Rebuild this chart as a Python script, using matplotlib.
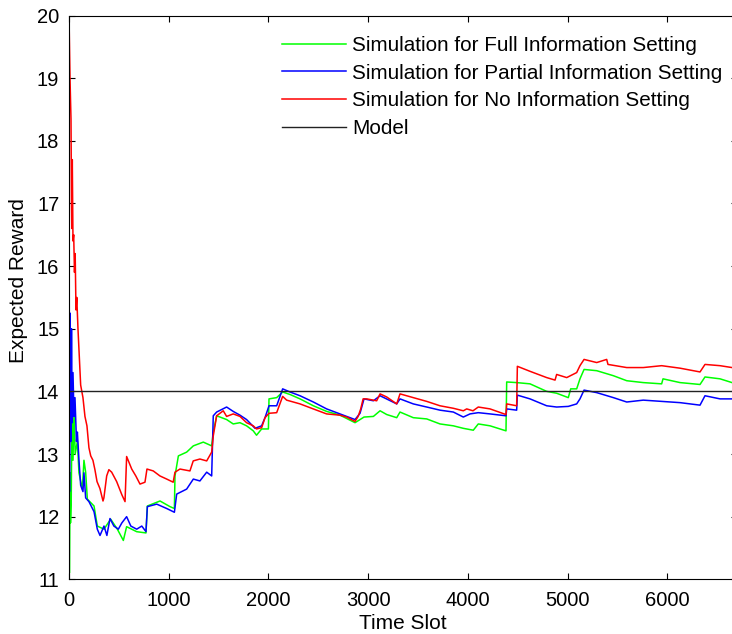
import numpy as np
import matplotlib
matplotlib.use('Agg')
from matplotlib import pyplot as plt

plt.rcParams['font.family'] = ['Liberation Sans', 'DejaVu Sans']

# Simulation for Full Information Setting (green)
t_full = [0, 4, 10, 15, 22, 30, 40, 50, 62, 84, 100, 134, 150, 167, 184, 251, 284, 351,
          418, 485, 545, 578, 679, 772, 786, 913, 1013, 1057, 1063, 1097, 1180, 1247,
          1347, 1431, 1447, 1481, 1581, 1647, 1715, 1781, 1848, 1881, 1932, 2000, 2006,
          2083, 2143, 2217, 2317, 2451, 2584, 2718, 2869, 2919, 2959, 3053, 3120, 3187,
          3287, 3320, 3453, 3588, 3721, 3855, 3955, 4055, 4105, 4223, 4383, 4390, 4490,
          4624, 4791, 4891, 5008, 5032, 5092, 5125, 5166, 5293, 5460, 5594, 5760, 5944,
          5958, 6129, 6329, 6379, 6530, 6650]
r_full = [15.0, 11.1, 12.7, 11.9, 12.2, 13.7, 12.9, 13.7, 13.0, 13.2, 12.7, 12.44, 12.9,
          12.71, 12.28, 12.17, 11.85, 11.8, 11.96, 11.8, 11.62, 11.84, 11.76, 11.74,
          12.17, 12.25, 12.16, 12.13, 12.65, 12.97, 13.03, 13.13, 13.19, 13.13, 13.35,
          13.61, 13.55, 13.48, 13.5, 13.45, 13.37, 13.3, 13.4, 13.4, 13.88, 13.9, 13.99,
          13.95, 13.88, 13.77, 13.68, 13.62, 13.5, 13.55, 13.59, 13.6, 13.69, 13.63,
          13.58, 13.67, 13.58, 13.56, 13.48, 13.45, 13.41, 13.38, 13.48, 13.45, 13.37,
          14.15, 14.14, 14.12, 14.0, 13.97, 13.9, 14.04, 14.04, 14.2, 14.35, 14.33, 14.25,
          14.17, 14.14, 14.12, 14.2, 14.14, 14.11, 14.23, 14.2, 14.14]

# Simulation for Partial Information Setting (blue)
t_part = [0, 5, 10, 18, 25, 32, 40, 50, 60, 75, 84, 100, 117, 140, 150, 167, 200, 251,
          284, 311, 351, 380, 411, 450, 495, 530, 578, 620, 679, 730, 772, 786, 880, 980,
          1057, 1080, 1180, 1247, 1313, 1381, 1431, 1447, 1481, 1581, 1647, 1715, 1781,
          1866, 1932, 1966, 2006, 2083, 2143, 2217, 2317, 2451, 2584, 2718, 2869, 2919,
          2959, 3053, 3120, 3287, 3320, 3453, 3588, 3721, 3855, 3955, 4022, 4105, 4223,
          4383, 4390, 4490, 4497, 4624, 4791, 4891, 5008, 5092, 5125, 5166, 5293, 5460,
          5594, 5760, 5944, 6129, 6329, 6379, 6530, 6650]
r_part = [18.6, 12.4, 15.25, 13.2, 15.0, 13.5, 14.3, 13.6, 13.9, 13.2, 13.35, 12.9, 12.5,
          12.4, 12.7, 12.3, 12.24, 12.08, 11.8, 11.7, 11.85, 11.7, 11.97, 11.85, 11.8,
          11.9, 12.0, 11.85, 11.8, 11.85, 11.76, 12.16, 12.2, 12.13, 12.07, 12.36, 12.44,
          12.6, 12.57, 12.71, 12.65, 13.61, 13.67, 13.75, 13.68, 13.62, 13.55, 13.41,
          13.45, 13.58, 13.77, 13.77, 14.04, 13.99, 13.93, 13.83, 13.72, 13.64, 13.55,
          13.65, 13.88, 13.85, 13.93, 13.8, 13.88, 13.8, 13.75, 13.7, 13.67, 13.59, 13.64,
          13.66, 13.64, 13.61, 13.72, 13.7, 13.94, 13.88, 13.77, 13.75, 13.76, 13.8,
          13.88, 14.02, 13.98, 13.9, 13.83, 13.86, 13.84, 13.82, 13.78, 13.93, 13.88, 13.88]

# Simulation for No Information Setting (red)
t_none = [0, 10, 20, 25, 28, 33, 40, 47, 55, 62, 70, 78, 90, 105, 117, 140, 160, 180, 200,
          218, 240, 260, 281, 310, 341, 350, 378, 400, 428, 478, 530, 562, 578, 629, 670,
          712, 762, 782, 845, 912, 980, 1045, 1063, 1113, 1213, 1246, 1313, 1381, 1431,
          1447, 1481, 1547, 1581, 1647, 1715, 1781, 1848, 1881, 1932, 1966, 2006, 2083,
          2143, 2183, 2317, 2450, 2584, 2718, 2785, 2869, 2900, 2926, 2950, 2986, 3086,
          3120, 3187, 3287, 3320, 3453, 3588, 3721, 3855, 3955, 3989, 4052, 4105, 4223,
          4383, 4390, 4490, 4497, 4624, 4791, 4875, 4891, 4992, 5092, 5125, 5166, 5293,
          5393, 5406, 5594, 5760, 5944, 6129, 6329, 6379, 6530, 6650]
r_none = [20.0, 19.0, 18.35, 17.0, 16.6, 17.7, 16.4, 16.5, 15.9, 16.2, 15.3, 15.5, 15.0,
          14.5, 14.1, 13.9, 13.6, 13.45, 13.1, 12.97, 12.9, 12.75, 12.56, 12.45, 12.25,
          12.3, 12.65, 12.75, 12.71, 12.56, 12.35, 12.24, 12.96, 12.76, 12.65, 12.52,
          12.55, 12.76, 12.73, 12.65, 12.6, 12.55, 12.71, 12.76, 12.73, 12.89, 12.92,
          12.89, 13.03, 13.29, 13.61, 13.69, 13.6, 13.64, 13.6, 13.5, 13.45, 13.4, 13.42,
          13.58, 13.65, 13.66, 13.92, 13.86, 13.8, 13.72, 13.64, 13.62, 13.59, 13.52, 13.6,
          13.72, 13.88, 13.88, 13.85, 13.96, 13.91, 13.8, 13.96, 13.9, 13.84, 13.77, 13.73,
          13.69, 13.72, 13.69, 13.75, 13.72, 13.63, 13.8, 13.77, 14.4, 14.32, 14.22, 14.18,
          14.27, 14.22, 14.3, 14.41, 14.51, 14.46, 14.51, 14.43, 14.38, 14.38, 14.41, 14.37,
          14.31, 14.43, 14.41, 14.38]

model = 14.0

fig = plt.figure(figsize=(7.32, 6.34), dpi=100)
ax = fig.add_axes([69/732, (634-579.3)/634, (737-69)/732, (579.3-15.5)/634])

ax.plot(t_full, r_full, color='#00ff00', lw=1.1,
        label='Simulation for Full Information Setting')
ax.plot(t_part, r_part, color='#0000ff', lw=1.1,
        label='Simulation for Partial Information Setting')
ax.plot(t_none, r_none, color='#ff0000', lw=1.1,
        label='Simulation for No Information Setting')
ax.axhline(model, color='#222222', lw=1.0, label='Model')

ax.set_xlim(0, 6700)
ax.set_ylim(11, 20)
ax.set_xticks(np.arange(0, 7000, 1000))
ax.set_yticks(np.arange(11, 21, 1))
ax.tick_params(direction='in', top=True, right=True, length=4.5, width=0.8,
               labelsize=14.5)
ax.tick_params(axis='x', pad=8.5)
ax.tick_params(axis='y', pad=7)
for s in ax.spines.values():
    s.set_linewidth(0.8)

ax.set_xlabel('Time Slot', fontsize=15, labelpad=2.5)
ax.set_ylabel('Expected Reward', fontsize=15)
ax.yaxis.set_label_coords(-0.061, 0.53)

ax.legend(loc='upper left', bbox_to_anchor=(282/732, 1-36/634),
          bbox_transform=fig.transFigure, frameon=False, fontsize=14.9,
          borderpad=0, borderaxespad=0, handlelength=3.1, handletextpad=0.28,
          labelspacing=0.42)

fig.savefig('out.png', dpi=100)
